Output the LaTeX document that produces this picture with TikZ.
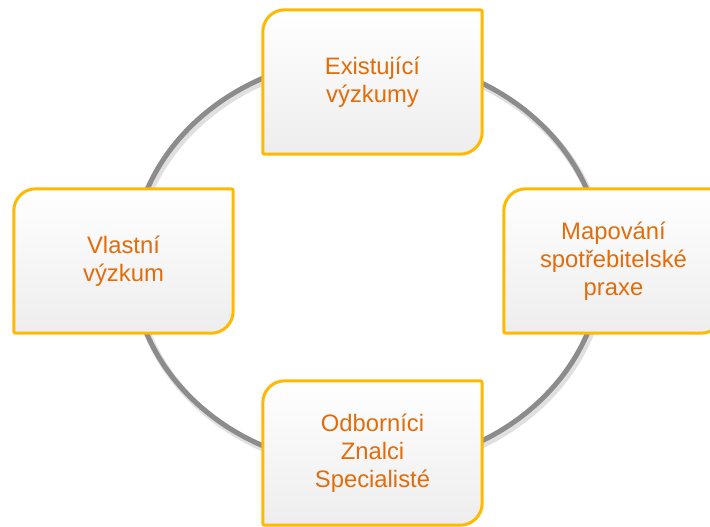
\documentclass[tikz,border=0pt]{standalone}
\usepackage{fontspec}
\setmainfont{Liberation Sans}
\definecolor{boxline}{HTML}{FFB900}
\definecolor{boxtext}{HTML}{E36C0A}
\definecolor{ringgray}{HTML}{8C8C8C}
\tikzset{
  x=1pt, y=1pt,
  stage/.style={minimum width=219pt, minimum height=144pt, inner sep=0pt,
    align=center, text=boxtext, font=\fontsize{23.8}{28}\selectfont},
  stageframe/.style={draw=boxline, line width=3pt, top color=white, bottom color=black!7},
  stageshadow/.style={fill=black, opacity=0.07, draw=none},
}
\newcommand{\stageoutline}[1]{%
  ([yshift=-22pt]#1.north west) arc[start angle=180,end angle=90,radius=22pt]
  -- ([xshift=-2pt]#1.north east) arc[start angle=90,end angle=0,radius=2pt]
  -- ([yshift=22pt]#1.south east) arc[start angle=0,end angle=-90,radius=22pt]
  -- ([xshift=2pt]#1.south west) arc[start angle=270,end angle=180,radius=2pt]
  -- cycle}
\newcommand{\stagedraw}[1]{%
  \foreach \s in {1,2,3,4}{
    \path[stageshadow, xshift=\s*0.9pt, yshift=-\s*1.1pt] \stageoutline{#1};
  }
  \path[stageframe] \stageoutline{#1};
}
\begin{document}
\begin{tikzpicture}
\useasboundingbox (0,0) rectangle (710,527);
\clip (0,0) rectangle (710,527);
% ring with soft shadow
\draw[black, opacity=0.12, line width=7pt] (369,262) ellipse[x radius=235, y radius=205];
\draw[ringgray, line width=5pt] (367,265) ellipse[x radius=235, y radius=205];
% stages
\path (372.5,445) node[stage] (top) {};
\path (123.5,266) node[stage] (left) {};
\path (613.5,266) node[stage] (right) {};
\path (372.5,74) node[stage] (bottom) {};
\stagedraw{top}
\stagedraw{left}
\stagedraw{right}
\stagedraw{bottom}
\node[stage] at (top) {Existující\\výzkumy};
\node[stage] at (left) {Vlastní\\výzkum};
\node[stage] at (right) {Mapování\\spotřebitelské\\praxe};
\node[stage] at (bottom) {Odborníci\\Znalci\\Specialisté};
\end{tikzpicture}
\end{document}
